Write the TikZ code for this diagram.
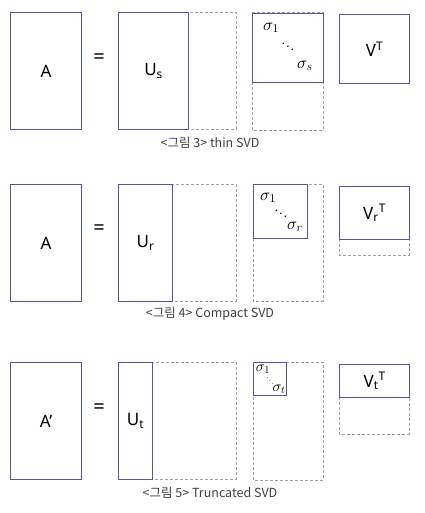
\documentclass[tikz,border=0pt]{standalone}
\usepackage{fontspec}
\setmainfont{Noto Sans}
\newfontfamily\kr{Noto Sans CJK KR}
\usepackage{fix-cm}
\usepackage{tikz}
\usetikzlibrary{positioning}

\definecolor{svdblue}{RGB}{82,88,160}
\definecolor{padgray}{RGB}{160,160,160}
\definecolor{capgray}{RGB}{64,64,64}

\begin{document}
\begin{tikzpicture}[
        x=1pt, y=-1pt,
        mat/.style={draw=svdblue, line width=1.2pt, inner sep=0pt, anchor=north west, font=\fontsize{17}{17}\selectfont},
        pad/.style={draw=padgray, line width=0.9pt, dash pattern=on 3pt off 2pt},
        eqsign/.style={font=\fontsize{20}{20}\selectfont},
        sigl/.style={inner sep=0pt, font=\fontsize{17}{17}\selectfont},
        dotsl/.style={inner sep=0pt, font=\fontsize{12}{12}\selectfont},
        figcap/.style={text=capgray, font=\kr\fontsize{12.5}{12.5}\selectfont}
    ]
    \useasboundingbox (0,0) rectangle (424,513);
    % thin SVD
    \node[mat, minimum width=71pt, minimum height=117pt] (A1) at (10,12) {A};
    \node[eqsign] (eq1) at (99,59) {=};
    \draw[pad] (188,12) rectangle (236,129);
    \node[mat, minimum width=70pt, minimum height=117pt] (U1) at (118,12) {U\textsubscript{s}};
    \draw[pad] (252,12) rectangle (323,130);
    \node[mat, minimum width=71pt, minimum height=69pt] (S1) at (252,13) {};
    \node[sigl] (s1a) at (271,28) {$\sigma_1$};
    \node[dotsl] (s1d) at (288,44) {$\ddots$};
    \node[sigl] (s1b) at (305,66) {$\sigma_s$};
    \node[mat, minimum width=70pt, minimum height=69pt] (V1) at (339,14) {V\textsuperscript{T}};
    \node[figcap] (c1) at (210,143) {<그림 3> thin SVD};

    % compact SVD
    \node[mat, minimum width=71pt, minimum height=117pt] (A2) at (10,184) {A};
    \node[eqsign] (eq2) at (99,230) {=};
    \draw[pad] (172,184) rectangle (236,301);
    \node[mat, minimum width=54pt, minimum height=117pt] (U2) at (118,184) {U\textsubscript{r}};
    \draw[pad] (253,184) rectangle (323,301);
    \node[mat, minimum width=54pt, minimum height=54pt] (S2) at (253,184) {};
    \node[sigl] (s2a) at (268,198) {$\sigma_1$};
    \node[dotsl] (s2d) at (281,211) {$\ddots$};
    \node[sigl] (s2b) at (295,227) {$\sigma_r$};
    \draw[pad] (339,239) rectangle (409,255);
    \node[mat, minimum width=70pt, minimum height=53pt] (V2) at (339,186) {V\textsubscript{r}\textsuperscript{T}};
    \node[figcap] (c2) at (210,314) {<그림 4> Compact SVD};

    % truncated SVD
    \node[mat, minimum width=71pt, minimum height=117pt] (A3) at (10,362) {A’};
    \node[eqsign] (eq3) at (99,409) {=};
    \draw[pad] (152,362) rectangle (236,479);
    \node[mat, minimum width=34pt, minimum height=117pt] (U3) at (118,362) {U\textsubscript{t}};
    \draw[pad] (253,362) rectangle (323,480);
    \node[mat, minimum width=33pt, minimum height=33pt] (S3) at (253,362) {};
    \node[sigl, font=\fontsize{15}{15}\selectfont] (s3a) at (263,369) {$\sigma_1$};
    \node[dotsl, font=\fontsize{6}{6}\selectfont] (s3d) at (270,378.5) {$\ddots$};
    \node[sigl, font=\fontsize{15}{15}\selectfont] (s3b) at (279,389) {$\sigma_t$};
    \draw[pad] (339,397) rectangle (409,434);
    \node[mat, minimum width=70pt, minimum height=33pt] (V3) at (339,364) {V\textsubscript{t}\textsuperscript{T}};
    \node[figcap] (c3) at (210,493) {<그림 5> Truncated SVD};
\end{tikzpicture}
\end{document}
